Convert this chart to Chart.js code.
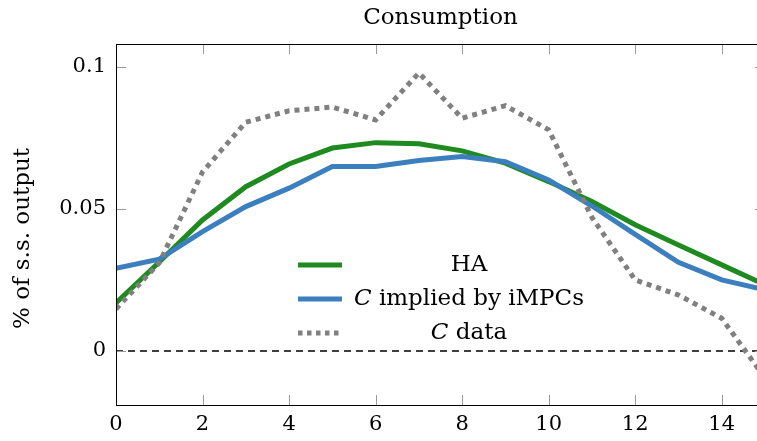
<!DOCTYPE html>
<html><head><meta charset="utf-8">
<script src="https://cdn.jsdelivr.net/npm/chart.js@4.4.1/dist/chart.umd.min.js"></script>
<style>
html,body{margin:0;padding:0;overflow:hidden;background:#fff;width:757px;height:441px}
#wrap{width:766px;height:441px}
canvas{display:block}
</style>
</head><body><div id="wrap"><canvas id="c" width="766" height="441"></canvas></div>
<script>
const periods = [0,1,2,3,4,5,6,7,8,9,10,11,12,13,14,15];
const haValues = [0.0169,0.0313,0.0461,0.0578,0.0658,0.0714,0.0733,0.0729,0.0704,0.0661,0.0596,0.0526,0.0444,0.0373,0.0303,0.0233];
const impcValues = [0.0291,0.0323,0.0420,0.0508,0.0573,0.0649,0.0649,0.0670,0.0684,0.0666,0.0602,0.0510,0.0410,0.0312,0.0250,0.0215];
const dataValues = [0.0148,0.0310,0.0630,0.0805,0.0845,0.0858,0.0813,0.0978,0.0819,0.0863,0.0778,0.0470,0.0250,0.0197,0.0115,-0.0095];
const xTicks = [0,2,4,6,8,10,12,14];
const yTicks = [0,0.05,0.1];
const titleText = 'Consumption';
const yTitle = '% of s.s. output';
const legendHA = [{t:'HA'}];
const legendImpc = [{t:'C',i:true},{t:' implied by iMPCs'}];
const legendData = [{t:'C',i:true},{t:' data'}];

const FAM = '"DejaVu Serif", serif';
const GREEN = '#1f8a1f', BLUE = '#3b7fbf', GRAY = '#808080';

const toXY = vals => periods.map((p,i)=>({x:p,y:vals[i]}));

const legendItems = [
  {label: legendHA, color: GREEN, dash: []},
  {label: legendImpc, color: BLUE, dash: []},
  {label: legendData, color: GRAY, dash: [4.5,4.5]}
];

const framePlugin = {
  id:'frame',
  beforeDatasetsDraw(chart){
    const ctx=chart.ctx, a=chart.chartArea, y=chart.scales.y.getPixelForValue(0);
    ctx.save();
    ctx.strokeStyle='#000'; ctx.lineWidth=1.6; ctx.setLineDash([7,5]);
    ctx.beginPath(); ctx.moveTo(a.left,y); ctx.lineTo(a.right,y); ctx.stroke();
    ctx.restore();
  },
  afterDraw(chart){
    const ctx=chart.ctx, a=chart.chartArea, xs=chart.scales.x, ys=chart.scales.y;
    ctx.save();
    ctx.strokeStyle='#9a9a9a'; ctx.lineWidth=1;
    const L=10;
    xTicks.forEach(v=>{
      const px=Math.round(xs.getPixelForValue(v))+0.5;
      ctx.beginPath(); ctx.moveTo(px,a.bottom); ctx.lineTo(px,a.bottom-L);
      ctx.moveTo(px,a.top); ctx.lineTo(px,a.top+L); ctx.stroke();
    });
    yTicks.forEach(v=>{
      const py=Math.round(ys.getPixelForValue(v))+0.5;
      ctx.beginPath(); ctx.moveTo(a.left,py); ctx.lineTo(a.left+L,py);
      ctx.moveTo(a.right,py); ctx.lineTo(a.right-L,py); ctx.stroke();
    });
    ctx.strokeStyle='#000'; ctx.lineWidth=1;
    ctx.strokeRect(Math.round(a.left)+0.5,Math.round(a.top)+0.5,Math.round(a.right-a.left),Math.round(a.bottom-a.top));
    // title centred over the plot area
    ctx.fillStyle='#000'; ctx.font='23px '+FAM; ctx.textAlign='center'; ctx.textBaseline='middle';
    ctx.fillText(titleText,(a.left+a.right)/2,a.top-26);
    // y-axis title
    ctx.translate(23,(a.top+a.bottom)/2+14);
    ctx.rotate(-Math.PI/2);
    ctx.fillText(yTitle,0,0);
    ctx.restore();
  }
};

const legendPlugin = {
  id:'customLegend',
  afterDatasetsDraw(chart){
    const ctx=chart.ctx, a=chart.chartArea;
    const sx0=a.left+182, sx1=a.left+226, cx=a.left+353, y0=a.top+221, gap=34;
    ctx.save();
    legendItems.forEach((it,k)=>{
      const y=y0+k*gap;
      ctx.strokeStyle=it.color; ctx.lineWidth=5; ctx.lineCap='butt';
      ctx.setLineDash(it.dash);
      ctx.beginPath(); ctx.moveTo(sx0,y); ctx.lineTo(sx1,y); ctx.stroke();
      ctx.setLineDash([]);
      let w=0;
      it.label.forEach(s=>{ctx.font=(s.i?'italic ':'')+'23px '+FAM; w+=ctx.measureText(s.t).width;});
      let x=cx-w/2;
      ctx.fillStyle='#000'; ctx.textBaseline='middle'; ctx.textAlign='left';
      it.label.forEach(s=>{ctx.font=(s.i?'italic ':'')+'23px '+FAM; ctx.fillText(s.t,x,y); x+=ctx.measureText(s.t).width;});
    });
    ctx.restore();
  }
};

new Chart(document.getElementById('c'),{
  type:'line',
  data:{datasets:[
    {label:'HA',data:toXY(haValues),borderColor:GREEN,borderWidth:5,pointRadius:0,tension:0,order:2,fill:false},
    {label:'C implied by iMPCs',data:toXY(impcValues),borderColor:BLUE,borderWidth:5,pointRadius:0,tension:0,order:1,fill:false},
    {label:'C data',data:toXY(dataValues),borderColor:GRAY,borderWidth:5,borderDash:[5,5],pointRadius:0,tension:0,order:0,fill:false}
  ]},
  options:{
    responsive:false,animation:false,
    layout:{padding:{left:0,right:1,top:44,bottom:0}},
    plugins:{legend:{display:false},tooltip:{enabled:false},title:{display:false}},
    scales:{
      x:{type:'linear',min:0,max:15,
        afterBuildTicks:s=>{s.ticks=xTicks.map(v=>({value:v}));},
        ticks:{color:'#000',font:{family:FAM,size:21},padding:7,maxRotation:0,callback:v=>String(v)},
        grid:{display:false,drawTicks:false},border:{display:false},
        afterFit:s=>{s.height=36;}},
      y:{type:'linear',min:-0.019,max:0.108,
        afterBuildTicks:s=>{s.ticks=yTicks.map(v=>({value:v}));},
        ticks:{color:'#000',font:{family:FAM,size:21},padding:10,callback:v=>String(v)},
        grid:{display:false,drawTicks:false},border:{display:false},
        title:{display:false},
        afterFit:s=>{s.width=116;}}
    }
  },
  plugins:[framePlugin,legendPlugin]
});
</script>
</body></html>
